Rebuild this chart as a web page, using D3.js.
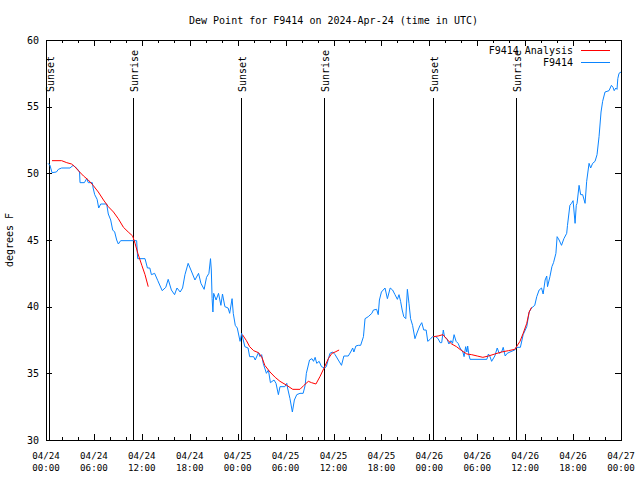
<!DOCTYPE html>
<html>
<head>
<meta charset="utf-8">
<script src="https://cdn.jsdelivr.net/npm/d3@7"></script>
<style>
  html, body { margin: 0; padding: 0; background: #fff; }
  svg { display: block; }
  text { font-family: "DejaVu Sans Mono", monospace; font-size: 10px; fill: #000; }
  text.xtick { font-size: 9.2px; }
</style>
</head>
<body>
<svg id="chart" width="640" height="480"></svg>
<script>
// ---- Data (hours since 2024-04-24 00:00 UTC) ----
const obsHours = [0.25,0.5,0.75,1.3,1.55,1.96,3.0,3.4,3.9,4.2,4.26,4.8,5.1,5.3,5.8,5.9,6.1,6.4,6.6,6.85,7.6,7.8,8.1,8.35,8.6,8.85,9.06,9.35,11.35,11.48,12.4,12.7,13.0,13.2,13.6,14.0,14.55,15.0,15.3,15.7,16.1,16.4,16.8,17.1,17.4,17.8,18.25,18.65,19.1,19.4,19.8,20.1,20.4,20.6,20.7,20.8,20.9,21.0,21.3,21.6,21.9,22.1,22.4,22.8,23.0,23.3,23.45,23.7,23.95,24.3,24.5,24.9,25.3,25.5,26.0,26.2,26.6,26.8,27.0,27.2,27.6,27.85,28.1,28.55,28.8,29.1,29.3,29.9,30.15,30.25,30.55,30.85,31.1,31.4,31.8,32.2,32.45,32.6,33.0,33.3,33.5,33.7,33.9,34.2,34.5,34.9,35.1,35.55,35.9,36.2,36.6,37.0,37.3,37.85,38.15,38.4,38.55,38.8,39.1,39.4,39.75,39.95,40.35,40.8,41.0,41.4,41.6,41.75,42.0,42.45,42.75,43.1,43.4,43.7,44.0,44.2,44.4,44.6,44.8,45.05,45.25,45.45,45.65,45.9,46.2,46.5,46.8,47.05,47.3,47.6,47.8,48.1,48.4,48.8,49.1,49.35,49.55,49.75,49.9,50.2,50.45,50.7,50.9,51.1,51.35,51.6,51.85,52.2,52.35,52.55,52.7,52.8,52.95,53.1,55.2,55.4,55.6,55.8,56.2,56.5,56.75,57.05,57.25,57.5,57.75,58.1,58.7,58.9,59.4,59.75,60.2,60.5,60.8,61.2,61.45,61.75,62.05,62.25,62.5,62.7,62.8,63.1,63.35,63.55,63.85,64.0,64.25,64.55,64.85,65.2,65.3,65.6,65.8,66.0,66.25,66.4,66.5,66.75,66.95,67.2,67.5,67.7,68.0,68.2,68.45,68.75,69.0,69.25,69.5,69.7,70.0,70.5,70.8,71.0,71.15,71.35,71.5,71.6,71.75,72.0];
const obsDew = [50.75,50.6,50.05,50.1,50.3,50.4,50.4,50.6,50.35,50.1,49.3,49.3,49.6,49.3,49.3,48.9,48.4,48.05,47.4,47.7,47.7,46.95,46.5,45.75,45.6,45.0,44.7,44.95,44.95,43.6,43.6,42.9,42.9,42.4,42.5,41.95,41.2,41.45,42.05,41.25,40.9,41.4,41.1,41.4,42.4,43.25,42.6,42.0,42.5,41.75,41.3,42.2,42.5,43.6,42.75,40.6,39.6,41.0,40.5,41.0,40.1,40.95,40.0,39.9,39.5,40.6,39.5,38.6,38.4,37.4,38.0,37.0,36.9,36.25,36.25,36.0,36.55,36.25,36.4,35.75,35.0,35.25,34.3,34.5,34.25,33.4,34.0,34.0,34.25,33.9,33.1,32.1,33.0,33.4,33.5,33.5,34.1,35.0,36.0,36.1,35.9,36.2,35.75,35.9,35.5,35.4,35.5,36.5,36.6,36.4,36.0,35.6,36.3,36.3,36.6,36.9,36.6,37.05,37.1,37.1,37.75,39.1,39.25,39.5,39.75,39.8,39.4,40.5,41.1,41.4,40.6,41.4,41.25,40.9,40.55,40.9,40.4,39.75,39.25,39.1,41.3,40.25,39.1,38.6,37.6,38.1,38.55,38.8,38.25,38.25,37.4,37.55,37.75,37.75,37.6,37.3,37.3,38.25,37.75,37.6,37.2,37.45,37.25,37.9,37.4,37.25,36.9,36.6,36.25,37.0,36.6,37.05,36.4,36.05,36.05,36.45,36.25,35.9,36.3,36.9,36.5,36.6,36.95,36.3,36.5,36.6,36.75,36.95,36.95,37.9,38.5,39.6,39.9,40.1,40.75,41.25,41.4,40.95,42.0,42.3,41.5,42.25,43.0,43.3,44.0,45.25,45.0,44.6,45.1,45.5,46.1,47.6,47.75,47.95,46.25,47.6,47.75,49.1,48.4,48.4,47.75,49.4,50.75,50.4,50.75,50.9,51.4,52.75,54.6,55.4,56.1,56.2,56.6,56.45,56.2,56.4,56.3,57.1,57.5,57.6];

// Analysis: null entries separate the three segments
const anaHours = [0.75,1.96,2.6,3.2,3.6,4.05,4.7,5.3,5.9,6.55,7.2,7.8,8.45,9.05,9.7,10.3,10.85,11.15,11.5,12.0,12.4,12.8,
  null,
  24.6,25.1,25.5,26.0,26.6,27.0,27.4,28.05,28.7,29.3,30.15,30.9,31.8,32.3,32.85,33.25,33.8,34.3,34.9,35.35,35.8,36.2,36.7,
  null,
  48.5,49.1,49.7,50.2,50.8,51.4,52.05,52.7,53.3,54.0,54.7,55.4,56.2,57.05,57.9,58.7,59.35,59.75,60.2,60.5,60.8];
const anaDew = [50.95,50.95,50.8,50.7,50.5,50.2,49.8,49.5,49.1,48.6,48.0,47.5,47.1,46.6,45.95,45.6,45.3,44.75,44.0,43.1,42.4,41.5,
  null,
  37.9,37.45,37.0,36.7,36.55,36.25,35.6,35.1,34.7,34.4,34.1,33.8,33.8,34.1,34.4,34.3,34.2,34.75,35.5,36.1,36.5,36.6,36.75,
  null,
  37.75,37.8,37.9,37.55,37.2,37.0,36.7,36.45,36.4,36.3,36.2,36.3,36.45,36.6,36.7,36.8,37.4,38.0,38.75,39.6,39.95];

const sunHours = [0.42, 10.93, 24.45, 34.92, 48.47, 58.88];
const sunLabels = ["Sunset","Sunrise","Sunset","Sunrise","Sunset","Sunrise"];

const xTickHours = [0,6,12,18,24,30,36,42,48,54,60,66,72];
const xTickDates = ["04/24","04/24","04/24","04/24","04/25","04/25","04/25","04/25","04/26","04/26","04/26","04/26","04/27"];
const xTickTimes = ["00:00","06:00","12:00","18:00","00:00","06:00","12:00","18:00","00:00","06:00","12:00","18:00","00:00"];
const yTicks = [30,35,40,45,50,55,60];

const seriesNames = ["F9414 Analysis","F9414"];
const seriesColors = ["#ff0000","#0a84ff"];

// ---- Layout ----
const L = 46, R = 621, T = 40, B = 440;
const svg = d3.select("#chart");
const x = d3.scaleLinear().domain([0,72]).range([L,R]);
const y = d3.scaleLinear().domain([30,60]).range([B,T]);

const minorHours = d3.range(0,73,2).filter(h => h % 6 !== 0);

// Title
svg.append("text").attr("x",(L+R)/2).attr("y",24).attr("text-anchor","middle")
  .text("Dew Point for F9414 on 2024-Apr-24 (time in UTC)");

// Y axis label
svg.append("text").attr("transform","translate(13,240) rotate(-90)")
  .attr("text-anchor","middle").text("degrees F");

// Axes (inward ticks)
function styleAxis(g){
  g.select(".domain").remove();
  g.selectAll("line").attr("stroke","#000").attr("shape-rendering","crispEdges");
  g.selectAll("text").remove();
}
svg.append("g").attr("transform",`translate(0,${B})`)
  .call(d3.axisBottom(x).tickValues(xTickHours).tickSize(-6)).call(styleAxis);
svg.append("g").attr("transform",`translate(0,${B})`)
  .call(d3.axisBottom(x).tickValues(minorHours).tickSize(-3)).call(styleAxis);
svg.append("g").attr("transform",`translate(0,${T})`)
  .call(d3.axisTop(x).tickValues(xTickHours).tickSize(-6)).call(styleAxis);
svg.append("g").attr("transform",`translate(0,${T})`)
  .call(d3.axisTop(x).tickValues(minorHours).tickSize(-3)).call(styleAxis);
svg.append("g").attr("transform",`translate(${L},0)`)
  .call(d3.axisLeft(y).tickValues(yTicks).tickSize(-6)).call(styleAxis);
svg.append("g").attr("transform",`translate(${R},0)`)
  .call(d3.axisRight(y).tickValues(yTicks).tickSize(-6)).call(styleAxis);

// Tick labels
svg.append("g").selectAll("text").data(yTicks).join("text")
  .attr("x", L-7).attr("y", d => y(d)).attr("dy","0.35em")
  .attr("text-anchor","end").text(d => d);
const xl = svg.append("g").selectAll("g").data(xTickHours).join("g");
xl.append("text").attr("class","xtick").attr("x", d => x(d)).attr("y", 459)
  .attr("text-anchor","middle").text((d,i) => xTickDates[i]);
xl.append("text").attr("class","xtick").attr("x", d => x(d)).attr("y", 471)
  .attr("text-anchor","middle").text((d,i) => xTickTimes[i]);

// Sunrise / sunset markers
const sun = svg.append("g").selectAll("g").data(sunHours).join("g");
sun.append("line").attr("x1", d => x(d)).attr("x2", d => x(d))
  .attr("y1", 98).attr("y2", B).attr("stroke","#000").attr("stroke-width",1)
  .attr("shape-rendering","crispEdges");
sun.append("text")
  .attr("transform", d => `translate(${x(d)+1},92) rotate(-90)`)
  .attr("dy","0.35em").attr("text-anchor","start")
  .text((d,i) => sunLabels[i]);

// Lines
const line = d3.line().defined(d => d[0] !== null && d[1] !== null)
  .x(d => x(d[0])).y(d => y(d[1]));
svg.append("path").datum(obsHours.map((h,i) => [h, obsDew[i]]))
  .attr("d", line).attr("fill","none").attr("stroke",seriesColors[1]).attr("stroke-width",1);
svg.append("path").datum(anaHours.map((h,i) => [h, anaDew[i]]))
  .attr("d", line).attr("fill","none").attr("stroke",seriesColors[0]).attr("stroke-width",1);

// Frame
svg.append("rect").attr("x",L).attr("y",T).attr("width",R-L).attr("height",B-T)
  .attr("fill","none").attr("stroke","#000").attr("shape-rendering","crispEdges");

// Legend
const legRows = [50, 62];
const leg = svg.append("g").selectAll("g").data(seriesNames).join("g");
leg.append("text").attr("x",573).attr("y",(d,i) => legRows[i]).attr("dy","0.35em")
  .attr("text-anchor","end").text(d => d);
leg.append("line").attr("x1",581).attr("x2",610)
  .attr("y1",(d,i) => legRows[i]).attr("y2",(d,i) => legRows[i])
  .attr("stroke",(d,i) => seriesColors[i]).attr("stroke-width",1)
  .attr("shape-rendering","crispEdges");
</script>
</body>
</html>
